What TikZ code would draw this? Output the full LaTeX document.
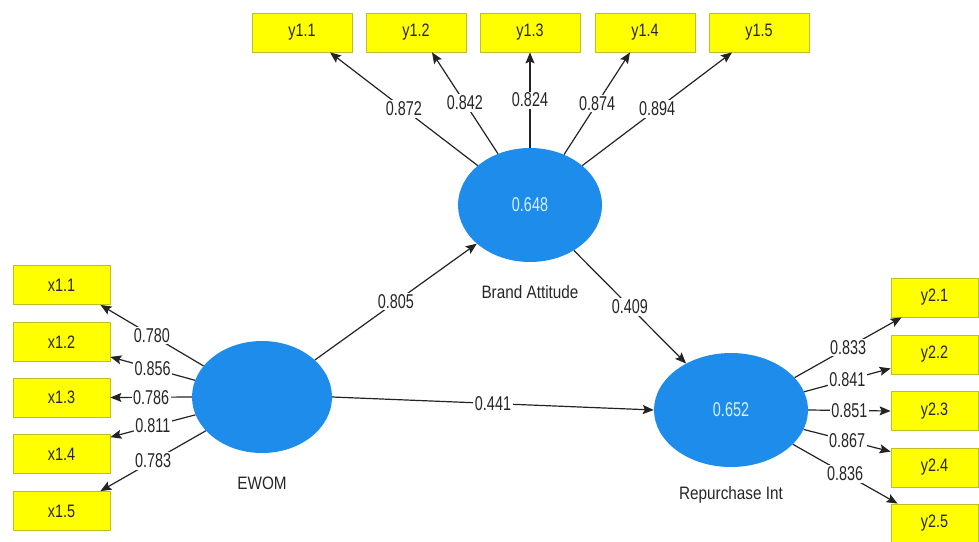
\documentclass[tikz,border=0pt]{standalone}
\usepackage{fontspec}
\setmainfont{Liberation Sans}
\usepackage{graphicx}
\usetikzlibrary{arrows.meta,shapes.geometric}

\definecolor{lvblue}{RGB}{30,140,235}
\definecolor{lvtext}{RGB}{215,240,255}
\definecolor{mvfill}{RGB}{255,255,0}
\definecolor{mvedge}{RGB}{190,190,40}
\definecolor{pathcol}{RGB}{35,35,35}

% horizontally condensed text
\newcommand\narrow[2][0.72]{\scalebox{#1}[1]{#2}}

\tikzset{
  lv/.style={ellipse, fill=lvblue, inner sep=0pt, text=lvtext,
    font=\fontsize{20}{22}\selectfont},
  mv/.style={rectangle, fill=mvfill, draw=mvedge, line width=0.8pt,
    minimum height=39pt, inner sep=0pt, text=black!85,
    font=\fontsize{18}{20}\selectfont},
  lvname/.style={text=black!85, font=\fontsize{18}{20}\selectfont},
  pth/.style={draw=pathcol, line width=1.2pt,
    -{Stealth[length=11pt,width=9pt,inset=2pt]}},
  coef/.style={fill=white, inner sep=1.5pt, text=black!85,
    font=\fontsize{20}{22}\selectfont}
}

\begin{document}
\begin{tikzpicture}[x=1pt,y=-1pt]
\useasboundingbox (0,0) rectangle (979,541);

% latent variables
\node[lv, minimum width=144pt, minimum height=114pt] (ba) at (530,205) {\narrow{0.648}};
\node[lv, minimum width=140pt, minimum height=112pt] (ew) at (262,397) {};
\node[lv, minimum width=154pt, minimum height=114pt] (rp) at (731,410) {\narrow{0.652}};

\node[lvname] (baname) at (530,292) {\narrow[0.85]{Brand Attitude}};
\node[lvname] (ewname) at (262,483) {\narrow[0.85]{EWOM}};
\node[lvname] (rpname) at (731,495) {\narrow[0.85]{Repurchase Int}};

% indicators of Brand Attitude
\node[mv, minimum width=100pt] (y11) at (302,32.5) {\narrow[0.8]{y1.1}};
\node[mv, minimum width=100pt] (y12) at (416,32.5) {\narrow[0.8]{y1.2}};
\node[mv, minimum width=100pt] (y13) at (530,32.5) {\narrow[0.8]{y1.3}};
\node[mv, minimum width=100pt] (y14) at (645,32.5) {\narrow[0.8]{y1.4}};
\node[mv, minimum width=100pt] (y15) at (759,32.5) {\narrow[0.8]{y1.5}};

% indicators of EWOM
\node[mv, minimum width=97pt] (x11) at (61.5,285) {\narrow[0.8]{x1.1}};
\node[mv, minimum width=97pt] (x12) at (61.5,342) {\narrow[0.8]{x1.2}};
\node[mv, minimum width=97pt] (x13) at (61.5,397.5) {\narrow[0.8]{x1.3}};
\node[mv, minimum width=97pt] (x14) at (61.5,454) {\narrow[0.8]{x1.4}};
\node[mv, minimum width=97pt] (x15) at (61.5,511) {\narrow[0.8]{x1.5}};

% indicators of Repurchase Int
\node[mv, minimum width=87pt] (y21) at (934.5,297.5) {\narrow[0.8]{y2.1}};
\node[mv, minimum width=87pt] (y22) at (934.5,354.5) {\narrow[0.8]{y2.2}};
\node[mv, minimum width=87pt] (y23) at (934.5,411) {\narrow[0.8]{y2.3}};
\node[mv, minimum width=87pt] (y24) at (934.5,467.5) {\narrow[0.8]{y2.4}};
\node[mv, minimum width=87pt] (y25) at (934.5,523.5) {\narrow[0.8]{y2.5}};

% outer loadings, Brand Attitude
\draw[pth] (ba.143) -- node[coef] {\narrow{0.872}} ([xshift=28pt]y11.south);
\draw[pth] (ba.122) -- node[coef] {\narrow{0.842}} ([xshift=16pt]y12.south);
\draw[pth] (ba.90)  -- node[coef] {\narrow{0.824}} (y13.south);
\draw[pth] (ba.56)  -- node[coef] {\narrow{0.874}} ([xshift=-15pt]y14.south);
\draw[pth] (ba.37)  -- node[coef] {\narrow{0.894}} ([xshift=-27pt]y15.south);

% outer loadings, EWOM
\draw[pth] (ew.152) -- node[coef] {\narrow{0.780}} ([xshift=-10pt]x11.south east);
\draw[pth] (ew.166) -- node[coef] {\narrow{0.856}} ([yshift=5pt]x12.south east);
\draw[pth] (ew.180) -- node[coef] {\narrow{0.786}} (x13.east);
\draw[pth] (ew.195) -- node[coef] {\narrow{0.811}} ([yshift=-3pt]x14.north east);
\draw[pth] (ew.211) -- node[coef] {\narrow{0.783}} ([xshift=-10pt]x15.north east);

% outer loadings, Repurchase Int
\draw[pth] (rp.27)  -- node[coef] {\narrow{0.833}} ([xshift=11pt]y21.south west);
\draw[pth] (rp.14)  -- node[coef] {\narrow{0.841}} ([yshift=6pt]y22.south west);
\draw[pth] (rp.0)   -- node[coef] {\narrow{0.851}} (y23.west);
\draw[pth] (rp.345) -- node[coef] {\narrow{0.867}} ([yshift=-4pt]y24.north west);
\draw[pth] (rp.331) -- node[coef] {\narrow{0.836}} ([xshift=7pt]y25.north west);

% structural paths
\draw[pth] (ew.35)  -- node[coef] {\narrow{0.805}} (ba.216);
\draw[pth] (ba.314) -- node[coef] {\narrow{0.409}} (rp.134);
\draw[pth] (ew.east) -- node[coef] {\narrow{0.441}} (rp.west);
\end{tikzpicture}
\end{document}
